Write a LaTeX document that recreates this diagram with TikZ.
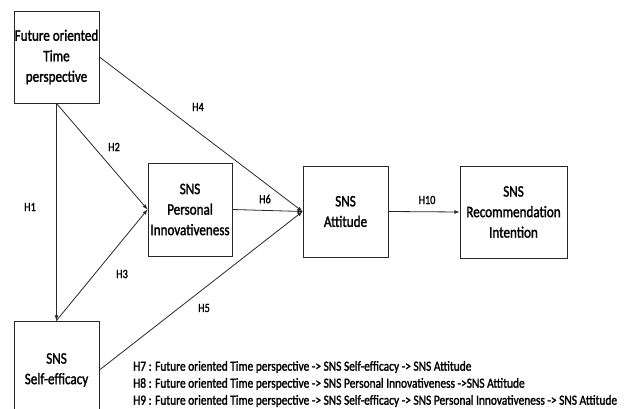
\documentclass[tikz,border=0pt]{standalone}
\usepackage{fontspec}
\setmainfont{Carlito}[FakeBold=1.6, FakeStretch=0.82]
\usepackage{tikz}
\definecolor{hyline}{RGB}{40,40,40}

\begin{document}
\begin{tikzpicture}[x=1pt,y=-1pt,
  construct/.style={draw=hyline, line width=0.9pt, fill=white, align=center,
    font=\fontsize{16}{20.5}\selectfont, inner sep=0pt},
  path/.style={draw=hyline, line width=0.8pt, -latex},
  hyp/.style={font=\fontsize{12.5}{14}\selectfont}]
\useasboundingbox (0,0) rectangle (627,409);

% Constructs
\node[construct, minimum width=85pt, minimum height=92pt] (ftp) at (56.5,57)
  {Future oriented\\Time\\perspective};
\node[construct, minimum width=84pt, minimum height=93pt] (pi) at (190,209.5)
  {SNS\\Personal\\Innovativeness};
\node[construct, minimum width=85pt, minimum height=91pt] (att) at (345.5,211.5)
  {SNS\\Attitude};
\node[construct, minimum width=107pt, minimum height=92pt] (rec) at (513.5,212)
  {SNS\\Recommendation\\Intention};
\node[construct, minimum width=85pt, minimum height=98pt] (se) at (56.5,370)
  {SNS\\Self-efficacy};

% Hypothesised paths
\draw[path] (ftp.south) -- (se.north);
\draw[path] (ftp.south) -- (pi.west);
\draw[path] (se.north) -- (pi.west);
\draw[path] (ftp.east) -- (att.west);
\draw[path] (se.east) -- (att.west);
\draw[path] (pi.east) -- (att.west);
\draw[path] (att.east) -- (rec.west);

% Path labels
\node[hyp] (h1) at (30,207) {H1};
\node[hyp] (h2) at (114,147) {H2};
\node[hyp] (h3) at (122,274) {H3};
\node[hyp] (h4) at (198,107) {H4};
\node[hyp] (h5) at (204,308) {H5};
\node[hyp] (h6) at (265,199) {H6};
\node[hyp] (h10) at (427,200) {H10};

% Mediation hypotheses
\node[anchor=west, align=left, inner sep=0pt, font=\fontsize{13.9}{17}\selectfont] (notes) at (133,384)
  {H7 : Future oriented Time perspective -> SNS Self-efficacy -> SNS Attitude\\
   H8 : Future oriented Time perspective -> SNS Personal Innovativeness ->SNS Attitude\\
   H9 : Future oriented Time perspective -> SNS Self-efficacy -> SNS Personal Innovativeness -> SNS Attitude};

\end{tikzpicture}
\end{document}
